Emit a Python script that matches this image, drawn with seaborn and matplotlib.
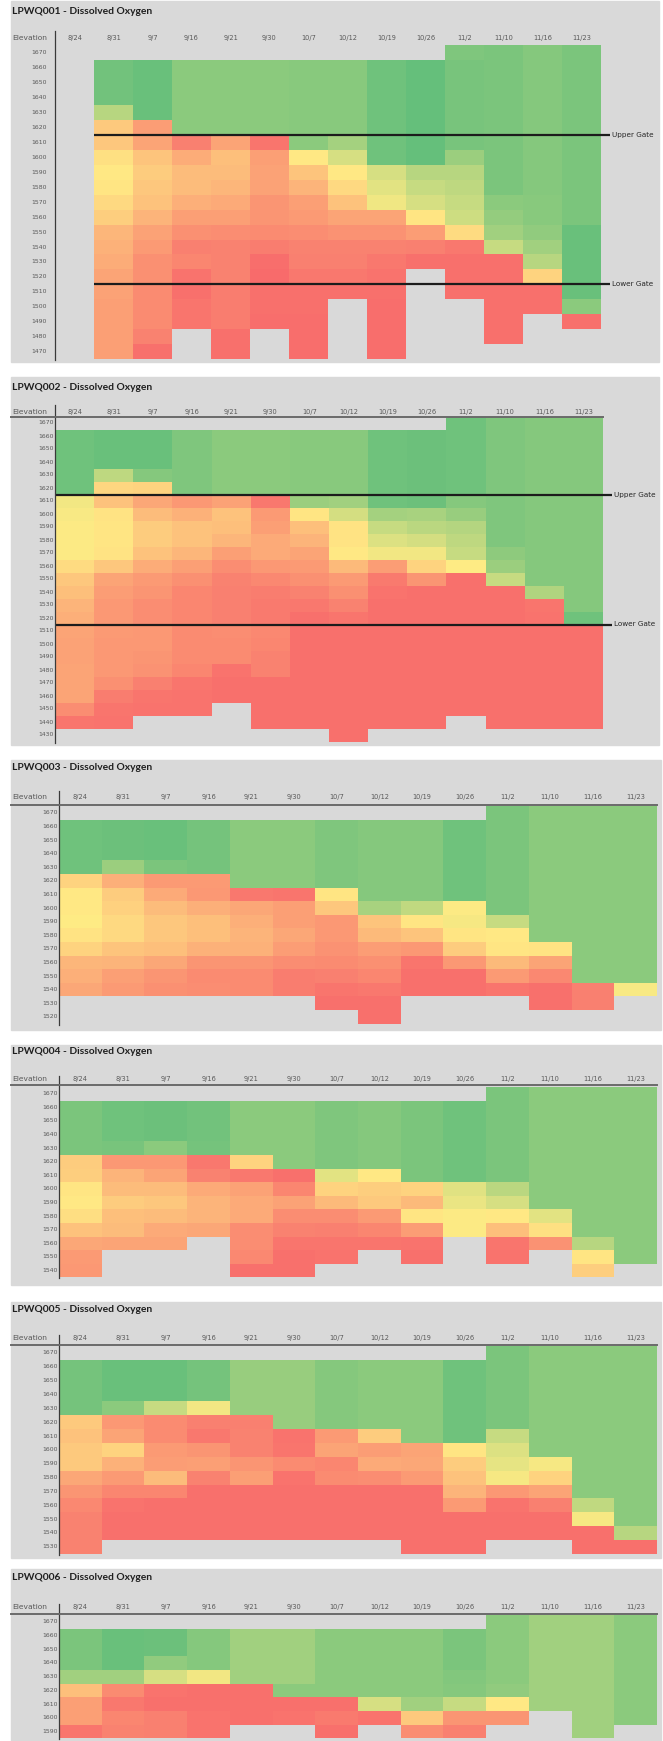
import numpy as np
import pandas as pd
import matplotlib
matplotlib.use("Agg")
import matplotlib.pyplot as plt
import seaborn as sns
from matplotlib.colors import LinearSegmentedColormap
from matplotlib.lines import Line2D
from matplotlib.patches import Rectangle

N = np.nan

# Sampling dates (columns)
dates = ["8/24", "8/31", "9/7", "9/16", "9/21", "9/30", "10/7",
         "10/12", "10/19", "10/26", "11/2", "11/10", "11/16", "11/23"]

# Dissolved oxygen (mg/L) by elevation, one row per elevation
elev_001 = [1670, 1660, 1650, 1640, 1630, 1620, 1610, 1600, 1590, 1580, 1570,
            1560, 1550, 1540, 1530, 1520, 1510, 1500, 1490, 1480, 1470]
do_001 = [
    [N, N, N, N, N, N, N, N, N, N, 9.1, 9.2, 8.9, 9.2],
    [N, 9.5, 9.8, 8.7, 8.7, 8.7, 8.8, 8.8, 9.6, 9.9, 9.3, 9.2, 8.9, 9.2],
    [N, 9.5, 9.8, 8.7, 8.7, 8.7, 8.8, 8.8, 9.6, 9.9, 9.3, 9.2, 8.9, 9.2],
    [N, 9.5, 9.8, 8.7, 8.7, 8.7, 8.8, 8.8, 9.6, 9.9, 9.3, 9.2, 8.9, 9.2],
    [N, 7.3, 9.8, 8.7, 8.7, 8.7, 8.8, 8.8, 9.6, 9.9, 9.3, 9.2, 8.9, 9.2],
    [N, 3.7, 2.0, 8.7, 8.7, 8.7, 8.8, 8.8, 9.6, 9.9, 9.3, 9.2, 8.9, 9.2],
    [N, 3.6, 2.3, 0.9, 2.3, 0.5, 8.7, 7.9, 9.6, 9.9, 9.3, 9.2, 8.9, 9.2],
    [N, 4.6, 3.5, 2.6, 3.3, 2.1, 4.9, 6.3, 9.6, 9.9, 8.2, 9.2, 8.9, 9.2],
    [N, 4.9, 3.8, 3.2, 3.2, 2.2, 3.5, 4.9, 6.3, 7.3, 7.3, 9.2, 8.9, 9.2],
    [N, 4.8, 3.6, 3.2, 3.0, 2.2, 2.9, 4.3, 5.9, 6.8, 7.1, 9.2, 8.9, 9.2],
    [N, 4.3, 3.4, 2.7, 2.5, 1.7, 2.1, 3.4, 5.5, 6.3, 6.8, 8.7, 8.8, 9.2],
    [N, 3.9, 2.9, 2.1, 2.1, 1.7, 1.9, 2.3, 2.3, 4.8, 6.6, 8.4, 8.8, 9.2],
    [N, 3.0, 2.2, 1.5, 1.4, 1.3, 1.4, 1.6, 1.6, 2.0, 4.4, 8.0, 8.5, 9.8],
    [N, 2.8, 1.9, 0.9, 1.0, 0.8, 1.0, 1.0, 1.0, 0.9, 0.6, 6.8, 8.0, 9.8],
    [N, 2.6, 1.5, 1.1, 1.0, 0.2, 0.9, 0.9, 0.6, 0.3, 0.3, 0.3, 7.3, 9.8],
    [N, 2.3, 1.5, 0.4, 1.0, 0.1, 0.6, 0.6, 0.4, N, 0.3, 0.3, 4.1, 9.8],
    [N, 2.2, 1.3, 0.3, 0.8, 0.3, 0.3, 0.3, 0.3, N, 0.3, 0.3, 0.3, 9.8],
    [N, 2.1, 1.3, 0.5, 0.8, 0.3, 0.3, N, 0.2, N, N, 0.3, 0.3, 8.7],
    [N, 2.1, 1.3, 0.5, 0.8, 0.2, 0.2, N, 0.2, N, N, 0.3, N, 0.3],
    [N, 2.1, 1.0, N, 0.3, N, 0.2, N, 0.2, N, N, 0.3, N, N],
    [N, 2.1, 0.3, N, 0.3, N, 0.2, N, 0.2, N, N, N, N, N],
]

elev_002 = [1670, 1660, 1650, 1640, 1630, 1620, 1610, 1600, 1590, 1580, 1570,
            1560, 1550, 1540, 1530, 1520, 1510, 1500, 1490, 1480, 1470, 1460,
            1450, 1440, 1430]
do_002 = [
    [N, N, N, N, N, N, N, N, N, N, 9.6, 9.1, 8.9, 8.9],
    [9.6, 9.8, 9.8, 9.1, 8.7, 8.7, 8.8, 8.8, 9.6, 9.7, 9.6, 9.1, 8.9, 8.9],
    [9.6, 9.8, 9.8, 9.1, 8.7, 8.7, 8.8, 8.8, 9.6, 9.7, 9.6, 9.1, 8.9, 8.9],
    [9.6, 9.8, 9.8, 9.1, 8.7, 8.7, 8.8, 8.8, 9.6, 9.7, 9.6, 9.1, 8.9, 8.9],
    [9.6, 7.1, 8.9, 9.1, 8.7, 8.7, 8.8, 8.8, 9.6, 9.7, 9.6, 9.1, 8.9, 8.9],
    [9.6, 4.2, 4.1, 9.1, 8.7, 8.7, 8.8, 8.8, 9.6, 9.7, 9.6, 9.1, 8.9, 8.9],
    [5.4, 3.4, 2.4, 1.8, 2.2, 0.6, 8.2, 8.0, 9.6, 9.7, 8.9, 9.1, 8.9, 8.9],
    [5.2, 4.7, 3.2, 2.8, 3.4, 1.9, 4.8, 6.4, 7.9, 7.8, 8.3, 9.1, 8.9, 8.9],
    [5.1, 4.8, 3.8, 3.4, 3.3, 2.1, 3.3, 4.7, 6.8, 7.2, 7.4, 9.1, 8.9, 8.9],
    [5.1, 4.8, 3.8, 3.4, 3.0, 2.5, 2.9, 4.7, 6.1, 6.4, 7.1, 9.1, 8.9, 8.9],
    [5.1, 4.7, 3.4, 3.0, 2.1, 2.5, 2.3, 4.9, 5.4, 5.4, 6.8, 8.6, 8.9, 8.9],
    [4.4, 3.6, 2.6, 2.1, 1.4, 1.8, 1.9, 3.1, 2.0, 4.1, 5.0, 8.2, 8.9, 8.9],
    [3.6, 2.3, 1.9, 1.5, 1.0, 1.2, 1.5, 1.9, 0.7, 1.7, 0.3, 6.8, 8.9, 8.9],
    [3.3, 2.0, 1.7, 1.1, 0.9, 0.8, 1.0, 1.5, 0.4, 0.3, 0.3, 0.3, 7.5, 8.9],
    [2.9, 1.8, 1.4, 1.1, 0.9, 0.7, 0.6, 1.0, 0.3, 0.3, 0.3, 0.3, 0.5, 8.9],
    [2.7, 1.8, 1.4, 1.1, 0.9, 0.7, 0.3, 0.5, 0.3, 0.3, 0.3, 0.3, 0.4, 9.6],
    [2.3, 1.9, 1.8, 1.3, 1.4, 1.2, 0.3, 0.3, 0.3, 0.3, 0.3, 0.3, 0.3, 0.3],
    [2.2, 1.8, 1.8, 1.3, 1.3, 1.1, 0.3, 0.3, 0.3, 0.3, 0.3, 0.3, 0.3, 0.3],
    [2.2, 1.8, 1.7, 1.3, 1.3, 1.0, 0.3, 0.3, 0.3, 0.3, 0.3, 0.3, 0.3, 0.3],
    [2.3, 1.8, 1.6, 1.1, 0.4, 1.0, 0.3, 0.3, 0.3, 0.3, 0.3, 0.3, 0.3, 0.3],
    [2.3, 1.5, 0.9, 0.5, 0.3, 0.3, 0.3, 0.3, 0.3, 0.3, 0.3, 0.3, 0.3, 0.3],
    [2.3, 0.8, 0.5, 0.4, 0.3, 0.3, 0.3, 0.3, 0.3, 0.3, 0.3, 0.3, 0.3, 0.3],
    [1.4, 0.5, 0.4, 0.4, N, 0.3, 0.3, 0.3, 0.3, 0.3, 0.3, 0.3, 0.3, 0.3],
    [0.5, 0.4, N, N, N, 0.3, 0.3, 0.3, 0.3, 0.3, N, 0.3, 0.3, 0.3],
    [N, N, N, N, N, N, N, 0.3, N, N, N, N, N, N],
]

elev_003 = [1670, 1660, 1650, 1640, 1630, 1620, 1610, 1600, 1590, 1580, 1570,
            1560, 1550, 1540, 1530, 1520]
do_003 = [
    [N, N, N, N, N, N, N, N, N, N, 9.2, 8.7, 8.7, 8.7],
    [9.6, 9.7, 9.8, 9.4, 8.7, 8.7, 9.1, 8.9, 8.9, 9.6, 9.2, 8.7, 8.7, 8.7],
    [9.6, 9.7, 9.8, 9.4, 8.7, 8.7, 9.1, 8.9, 8.9, 9.6, 9.2, 8.7, 8.7, 8.7],
    [9.6, 9.7, 9.8, 9.4, 8.7, 8.7, 9.1, 8.9, 8.9, 9.6, 9.2, 8.7, 8.7, 8.7],
    [9.6, 8.2, 9.2, 9.4, 8.7, 8.7, 9.1, 8.9, 8.9, 9.6, 9.2, 8.7, 8.7, 8.7],
    [4.1, 2.7, 1.9, 1.9, 8.7, 8.7, 9.1, 8.9, 8.9, 9.6, 9.2, 8.7, 8.7, 8.7],
    [4.9, 3.8, 2.5, 1.8, 0.6, 0.5, 4.8, 8.9, 8.9, 9.6, 9.2, 8.7, 8.7, 8.7],
    [4.9, 4.0, 3.2, 2.7, 2.4, 2.1, 3.6, 7.8, 7.0, 5.1, 9.2, 8.7, 8.7, 8.7],
    [5.0, 4.3, 3.6, 3.3, 2.7, 2.1, 1.8, 3.5, 4.8, 5.3, 6.8, 8.7, 8.7, 8.7],
    [4.7, 4.3, 3.6, 3.3, 2.9, 2.4, 1.8, 3.1, 3.5, 4.8, 4.9, 8.7, 8.7, 8.7],
    [4.1, 3.5, 3.3, 2.8, 2.8, 2.0, 1.6, 2.0, 1.8, 3.8, 4.8, 4.7, 8.7, 8.7],
    [3.0, 2.9, 2.4, 1.7, 1.7, 1.4, 1.3, 1.5, 0.5, 1.8, 3.1, 2.3, 8.7, 8.7],
    [2.7, 2.1, 1.7, 1.3, 1.3, 0.8, 0.9, 1.1, 0.3, 0.3, 1.9, 1.2, 8.7, 8.7],
    [2.4, 1.9, 1.5, 1.4, 1.3, 0.8, 0.5, 0.6, 0.3, 0.3, 0.5, 0.3, 0.9, 5.2],
    [N, N, N, N, N, N, 0.3, 0.3, N, N, N, 0.3, 0.9, N],
    [N, N, N, N, N, N, N, 0.3, N, N, N, N, N, N],
]

elev_004 = [1670, 1660, 1650, 1640, 1630, 1620, 1610, 1600, 1590, 1580, 1570,
            1560, 1550, 1540]
do_004 = [
    [N, N, N, N, N, N, N, N, N, N, 9.2, 8.7, 8.7, 8.7],
    [9.2, 9.6, 9.7, 9.5, 8.7, 8.7, 9.1, 8.9, 9.2, 9.6, 9.2, 8.7, 8.7, 8.7],
    [9.2, 9.6, 9.7, 9.5, 8.7, 8.7, 9.1, 8.9, 9.2, 9.6, 9.2, 8.7, 8.7, 8.7],
    [9.2, 9.6, 9.7, 9.5, 8.7, 8.7, 9.1, 8.9, 9.2, 9.6, 9.2, 8.7, 8.7, 8.7],
    [9.2, 9.3, 8.7, 9.4, 8.7, 8.7, 9.1, 8.9, 9.2, 9.6, 9.2, 8.7, 8.7, 8.7],
    [3.8, 1.8, 1.8, 0.6, 4.1, 8.7, 9.1, 8.9, 9.2, 9.6, 9.2, 8.7, 8.7, 8.7],
    [3.9, 2.9, 2.3, 1.0, 0.6, 0.3, 5.9, 4.9, 9.2, 9.6, 9.2, 8.7, 8.7, 8.7],
    [4.8, 3.2, 3.2, 2.5, 2.2, 1.1, 4.1, 3.9, 4.1, 6.0, 7.2, 8.7, 8.7, 8.7],
    [4.9, 3.8, 3.6, 2.9, 2.5, 2.2, 3.1, 3.7, 3.1, 5.7, 6.3, 8.7, 8.7, 8.7],
    [4.5, 3.3, 3.2, 2.9, 2.5, 1.4, 1.4, 1.9, 4.8, 5.1, 4.9, 5.9, 8.7, 8.7],
    [3.4, 3.2, 2.5, 2.4, 1.4, 1.0, 0.9, 1.1, 2.0, 5.1, 3.3, 4.6, 8.7, 8.7],
    [2.4, 2.3, 2.3, N, 1.4, 0.5, 0.5, 0.5, 0.4, N, 0.5, 1.6, 7.3, 8.7],
    [1.9, N, N, N, 1.2, 0.3, 0.4, N, 0.3, N, 0.4, N, 4.8, 8.7],
    [1.8, N, N, N, 0.3, 0.3, N, N, N, N, N, N, 3.9, N],
]

elev_005 = [1670, 1660, 1650, 1640, 1630, 1620, 1610, 1600, 1590, 1580, 1570,
            1560, 1550, 1540, 1530]
do_005 = [
    [N, N, N, N, N, N, N, N, N, N, 9.2, 8.7, 8.7, 8.7],
    [9.4, 9.8, 9.8, 9.4, 8.3, 8.3, 8.9, 8.7, 8.7, 9.6, 9.2, 8.7, 8.7, 8.7],
    [9.4, 9.8, 9.8, 9.4, 8.3, 8.3, 8.9, 8.7, 8.7, 9.6, 9.2, 8.7, 8.7, 8.7],
    [9.4, 9.8, 9.8, 9.4, 8.3, 8.3, 8.9, 8.7, 8.7, 9.6, 9.2, 8.7, 8.7, 8.7],
    [9.4, 8.7, 6.8, 5.4, 8.3, 8.3, 8.9, 8.7, 8.7, 9.6, 9.2, 8.7, 8.7, 8.7],
    [3.7, 1.8, 1.3, 0.9, 0.9, 8.3, 8.9, 8.7, 8.7, 9.6, 9.2, 8.7, 8.7, 8.7],
    [3.4, 2.3, 1.3, 0.6, 1.0, 0.4, 1.9, 3.8, 8.7, 9.6, 6.8, 8.7, 8.7, 8.7],
    [3.7, 4.1, 1.9, 1.7, 1.0, 0.5, 2.3, 2.0, 2.3, 4.8, 6.1, 8.7, 8.7, 8.7],
    [3.7, 2.8, 2.0, 2.1, 1.7, 1.3, 1.1, 2.5, 2.4, 3.8, 5.8, 5.3, 8.7, 8.7],
    [2.4, 1.9, 3.2, 1.0, 2.1, 0.4, 1.3, 1.4, 1.9, 3.4, 5.3, 4.1, 8.7, 8.7],
    [1.7, 1.1, 1.1, 0.3, 0.3, 0.3, 0.3, 0.3, 0.3, 2.9, 1.8, 2.3, 8.7, 8.7],
    [1.2, 0.4, 0.3, 0.3, 0.3, 0.3, 0.3, 0.3, 0.3, 1.9, 0.4, 0.9, 7.0, 8.7],
    [1.0, 0.3, 0.3, 0.3, 0.3, 0.3, 0.3, 0.3, 0.3, 0.3, 0.3, 0.3, 5.3, 8.7],
    [1.0, 0.3, 0.3, 0.3, 0.3, 0.3, 0.3, 0.3, 0.3, 0.3, 0.3, 0.3, 0.3, 7.3],
    [1.0, N, N, N, N, N, N, N, 0.3, 0.3, N, N, 0.3, 0.3],
]

elev_006 = [1670, 1660, 1650, 1640, 1630, 1620, 1610, 1600, 1590]
do_006 = [
    [N, N, N, N, N, N, N, N, N, N, 8.7, 8.0, 8.0, 8.7],
    [9.2, 9.8, 9.7, 8.9, 8.0, 8.0, 8.7, 8.7, 8.7, 9.2, 8.7, 8.0, 8.0, 8.7],
    [9.2, 9.8, 9.7, 8.9, 8.0, 8.0, 8.7, 8.7, 8.7, 9.2, 8.7, 8.0, 8.0, 8.7],
    [9.2, 9.8, 8.5, 8.9, 8.0, 8.0, 8.7, 8.7, 8.7, 9.2, 8.7, 8.0, 8.0, 8.7],
    [8.0, 8.0, 6.3, 5.4, 8.0, 8.0, 8.7, 8.7, 8.7, 9.0, 8.7, 8.0, 8.0, 8.7],
    [3.3, 1.3, 0.4, 0.3, 0.3, 8.7, 8.7, 8.7, 8.7, 8.9, 8.5, 8.0, 8.0, 8.7],
    [2.1, 0.6, 0.3, 0.3, 0.3, 0.3, 0.3, 6.3, 8.0, 6.8, 4.9, 8.0, 8.0, 8.7],
    [2.1, 1.1, 0.9, 0.4, 0.3, 0.4, 0.7, 0.4, 3.7, 1.7, 1.7, N, 8.0, 8.7],
    [0.5, 1.0, 0.9, 0.4, N, N, 0.3, N, 1.4, 0.9, N, N, 8.0, N],
]

gates = {"Upper Gate": 1615, "Lower Gate": 1515}

# ---- layout (pixels in the 663 x 1741 image) ----
W, H = 663, 1741
GRAY = "#D9D9D9"
panels = [
    # name, data, elevations, bg box (l, t, r, b), title y, header y, header line y,
    # vline top, data x0, x1, data top, row height, ylabel pad, gate start col
    ("LPWQ001", do_001, elev_001, (11, 1, 659, 362), 11, 38, None, 31, 55, 601, 45.2, 14.95, 8, 1),
    ("LPWQ002", do_002, elev_002, (11, 377, 659, 745), 387, 412, 417, 405, 55, 603, 416.5, 13.0, 1, 0),
    ("LPWQ003", do_003, elev_003, (11, 760, 661, 1030), 767, 797, 805, 791, 59, 657, 806, 13.6, 1, None),
    ("LPWQ004", do_004, elev_004, (11, 1045, 661, 1285), 1052, 1079, 1085, 1076, 59, 657, 1087, 13.6, 1, None),
    ("LPWQ005", do_005, elev_005, (11, 1302, 661, 1558), 1309, 1338, 1345, 1335, 59, 657, 1346, 13.85, 1, None),
    ("LPWQ006", do_006, elev_006, (11, 1569, 661, 1750), 1578, 1607, 1614, 1604, 59, 657, 1615, 13.7, 1, None),
]

cmap = LinearSegmentedColormap.from_list("excel_ryg", ["#F8696B", "#FFEB84", "#63BE7B"])

fig = plt.figure(figsize=(W / 100, H / 100), dpi=100)
fig.patch.set_facecolor("white")


def fx(x):
    return x / W


def fy(y):
    return 1 - y / H


for (name, vals, elevs, bg, title_y, head_y, hline_y, vtop,
     x0, x1, y0, row_h, ypad, gate_col) in panels:
    l, t, r, b = bg
    fig.patches.append(Rectangle((fx(l), fy(b)), fx(r - l), (b - t) / H,
                                 transform=fig.transFigure, color=GRAY, zorder=-5))
    fig.text(fx(12), fy(title_y), f"{name} - Dissolved Oxygen", fontsize=7.4,
             fontweight="bold", family="Lato", color="#1f1f1f",
             va="center", ha="left")
    fig.text(fx(12), fy(head_y), "Elevation", fontsize=5.4, color="#595959",
             va="center", ha="left")

    y1 = y0 + row_h * len(elevs)
    ax = fig.add_axes([fx(x0), fy(y1), fx(x1 - x0), row_h * len(elevs) / H])
    df = pd.DataFrame(vals, index=elevs, columns=dates)
    sns.heatmap(df, ax=ax, cmap=cmap, vmin=0, vmax=10, cbar=False,
                xticklabels=dates, yticklabels=elevs)
    ax.set_facecolor(GRAY)
    ax.xaxis.tick_top()
    ax.set_xlabel("")
    ax.set_ylabel("")
    ax.tick_params(axis="both", length=0, labelcolor="#595959")
    ax.tick_params(axis="x", labelsize=4.8, pad=max((y0 - head_y - 3.4) * 0.72, 0.3))
    ax.tick_params(axis="y", labelsize=4.4, pad=ypad * 0.72)
    plt.setp(ax.get_xticklabels(), rotation=0)
    plt.setp(ax.get_yticklabels(), rotation=0)

    # frame lines
    fig.add_artist(Line2D([fx(x0), fx(x0)], [fy(vtop), fy(min(y1 + 1, H))],
                          color="#3a3a3a", lw=0.9, zorder=5))
    if hline_y is not None:
        fig.add_artist(Line2D([fx(11), fx(x1)], [fy(hline_y), fy(hline_y)],
                              color="#6a6a6a", lw=1.4, zorder=5))

    if gate_col is not None:
        for label, level in gates.items():
            yy = elevs.index(level + 5) + 1
            ax.plot([gate_col, 14.22], [yy, yy], color="#1c1c1c", lw=1.6,
                    clip_on=False, solid_capstyle="butt")
            ax.text(14.27, yy, label, fontsize=5.2, color="#262626",
                    va="center", ha="left", clip_on=False)

fig.savefig("out.png", dpi=100, facecolor="white")
